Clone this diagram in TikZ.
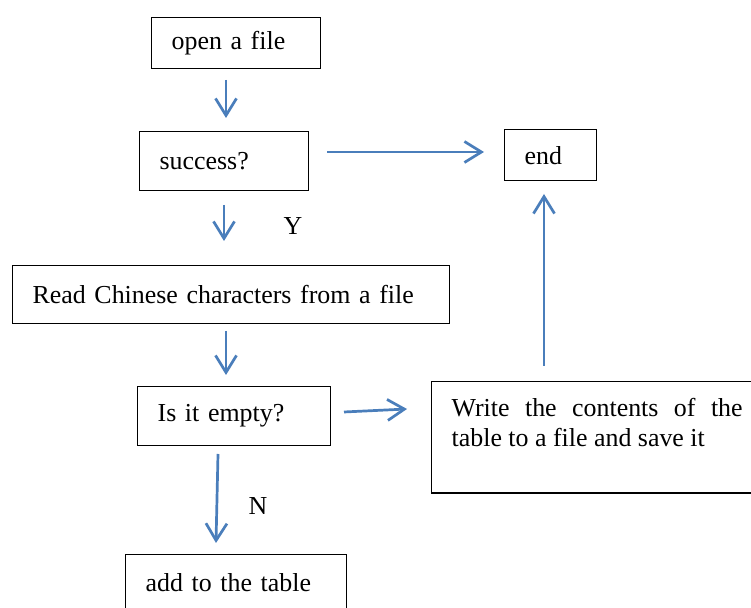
\documentclass[tikz,border=0pt]{standalone}
\usepackage{fontspec}
\setmainfont{Liberation Serif}
\usetikzlibrary{arrows.meta}
\definecolor{arrowblue}{RGB}{74,126,187}
\hyphenpenalty=10000
\exhyphenpenalty=10000
\tikzset{
  box/.style={draw=black, line width=0.65pt, anchor=north west, inner xsep=10pt, inner ysep=0pt,
    align=left, font=\fontsize{12.95}{15}\selectfont},
  lbl/.style={font=\fontsize{12.95}{15}\selectfont, inner sep=0pt},
  flow/.style={draw=arrowblue, line width=1.35pt, -{Straight Barb[length=8.5pt,width=10.5pt,line width=1.35pt]}}
}
\begin{document}
\begin{tikzpicture}[x=0.5pt,y=-0.5pt]
\useasboundingbox (0,0) rectangle (751,608);
\clip (0,0) rectangle (751,608);
\fill[white] (0,0) rectangle (751,608);
% boxes
\node[box, minimum width=84.5pt, minimum height=25.5pt, text width=64.5pt] (open) at (151,17) {open a file};
\node[box, minimum width=84.5pt, minimum height=29.5pt, text width=64.5pt] (succ) at (139,131) {success?};
\node[box, minimum width=46pt, minimum height=25.5pt, text width=26pt] (end) at (504,129) {end};
\node[box, minimum width=218.5pt, minimum height=29pt, text width=198.5pt] (read) at (12,265) {Read Chinese characters from a file};
\node[box, minimum width=96.5pt, minimum height=29.5pt, text width=76.5pt] (empty) at (137,386) {Is it empty?};
\node[box, inner ysep=8.5pt, text width=145.5pt, align=justify] (write) at (431,381)
  {Write the contents of the table to a file and save it\rule[-14.5pt]{0pt}{14.5pt}};
\node[box, minimum width=110.5pt, minimum height=28pt, text width=90.5pt] (add) at (125,554) {add to the table};
% labels
\node[lbl] (ylab) at (293,226) {Y};
\node[lbl] (nlab) at (258,506) {N};
% arrow end points
\coordinate (a1s) at (226,80);  \coordinate (a1e) at (226,118);
\coordinate (a2s) at (327,152); \coordinate (a2e) at (484,152);
\coordinate (a3s) at (224,205); \coordinate (a3e) at (224,241);
\coordinate (a4s) at (226,331); \coordinate (a4e) at (226,375);
\coordinate (a5s) at (344,412); \coordinate (a5e) at (407,409);
\coordinate (a6s) at (218,454); \coordinate (a6e) at (216,543);
\coordinate (a7s) at (544,366); \coordinate (a7e) at (544,194);
\draw[flow] (a1s) -- (a1e);
\draw[flow] (a2s) -- (a2e);
\draw[flow] (a3s) -- (a3e);
\draw[flow] (a4s) -- (a4e);
\draw[flow] (a5s) -- (a5e);
\draw[flow] (a6s) -- (a6e);
\draw[flow] (a7s) -- (a7e);
\end{tikzpicture}
\end{document}
